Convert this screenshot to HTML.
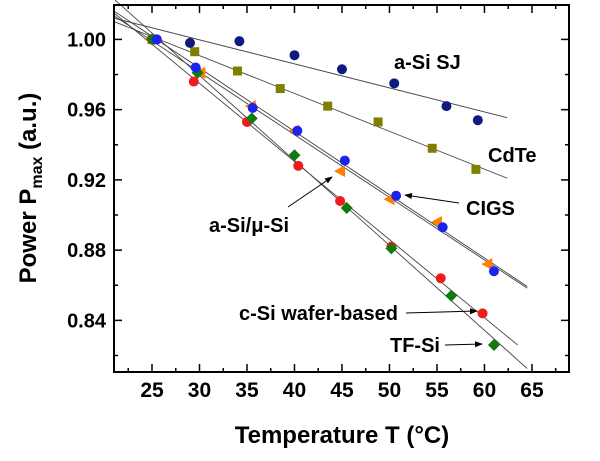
<!DOCTYPE html>
<html><head><meta charset="utf-8"><style>
body{margin:0;background:#fff;}
svg{display:block;font-family:"Liberation Sans",Arial,sans-serif;}
</style></head><body>
<svg id="chart" width="600" height="461" viewBox="0 0 600 461"></svg>
<script>
const seriesNames=["a-Si SJ","CdTe","CIGS","a-Si/μ-Si","c-Si","TF-Si"];
const tempASiSJ=[25.5,29,34.2,40,45,50.5,56,59.3];
const powASiSJ=[1.0,0.998,0.999,0.991,0.983,0.975,0.962,0.954];
const tempCdTe=[25,29.5,34,38.5,43.5,48.8,54.5,59.1];
const powCdTe=[1.0,0.993,0.982,0.972,0.962,0.953,0.938,0.926];
const tempCIGS=[25.5,29.6,35.6,40.3,45.3,50.7,55.6,61];
const powCIGS=[1.0,0.984,0.961,0.948,0.931,0.911,0.893,0.868];
const tempMicro=[24.8,30.1,35.4,40,44.8,50,55,60.3];
const powMicro=[1.0,0.981,0.962,0.948,0.925,0.909,0.896,0.872];
const tempCSi=[25,29.4,35,40.4,44.8,50.2,55.4,59.8];
const powCSi=[1.0,0.976,0.953,0.928,0.908,0.882,0.864,0.844];
const tempTFSi=[25,29.8,35.5,40,45.5,50.2,56.5,61];
const powTFSi=[1.0,0.981,0.955,0.934,0.904,0.881,0.854,0.826];
const xTicks=[25,30,35,40,45,50,55,60,65];
const yTicks=[1.00,0.96,0.92,0.88,0.84];

const NS="http://www.w3.org/2000/svg";
const svg=document.getElementById('chart');
const L=114,R=569,T=5,B=372;
const X0=21,X1=68.9,Y0=0.8106,Y1=1.0196;
const sx=v=>L+(v-X0)/(X1-X0)*(R-L);
const sy=v=>B-(v-Y0)/(Y1-Y0)*(B-T);
function mk(tag,attrs,parent){const e=document.createElementNS(NS,tag);for(const k in attrs)e.setAttribute(k,attrs[k]);(parent||svg).appendChild(e);return e;}

function fit(xs,ys){const n=xs.length;let mx=0,my=0;for(let i=0;i<n;i++){mx+=xs[i];my+=ys[i];}mx/=n;my/=n;let a=0,b=0;for(let i=0;i<n;i++){a+=(xs[i]-mx)*(ys[i]-my);b+=(xs[i]-mx)**2;}const s=a/b;return [s,my-s*mx];}
const fits=[[tempASiSJ,powASiSJ,21,62.4],[tempCdTe,powCdTe,21,62.4],[tempCIGS,powCIGS,21,64.5],[tempMicro,powMicro,21,64.5],[tempCSi,powCSi,21,63.5],[tempTFSi,powTFSi,21,64.5]];
fits.forEach((f,i)=>{const [s,b]=fit(f[0],f[1]);const ln=mk('line',{x1:sx(f[2]),y1:sy(s*f[2]+b),x2:sx(f[3]),y2:sy(s*f[3]+b),stroke:'#444','stroke-width':0.9});

});

function circle(xs,ys,col,name){xs.forEach((x,i)=>{const c=mk('circle',{cx:sx(x),cy:sy(ys[i]),r:5,fill:col});

});}
function square(xs,ys,col,name){xs.forEach((x,i)=>{const c=mk('rect',{x:sx(x)-4.5,y:sy(ys[i])-4.5,width:9,height:9,fill:col});

});}
function tri(xs,ys,col,name){xs.forEach((x,i)=>{const cx=sx(x),cy=sy(ys[i]);const c=mk('polygon',{points:`${cx-6},${cy} ${cx+5},${cy-6} ${cx+5},${cy+6}`,fill:col});

});}
function dia(xs,ys,col,name){xs.forEach((x,i)=>{const cx=sx(x),cy=sy(ys[i]);const c=mk('polygon',{points:`${cx},${cy-6} ${cx+6},${cy} ${cx},${cy+6} ${cx-6},${cy}`,fill:col});

});}
square(tempCdTe,powCdTe,'#808000','cdte');
circle(tempASiSJ,powASiSJ,'#0f1a80','a-si-sj');
tri(tempMicro,powMicro,'#ff8000','a-si-micro-si');
circle(tempCSi,powCSi,'#ee1c1c','c-si');
dia(tempTFSi,powTFSi,'#107a10','tf-si');
circle(tempCIGS,powCIGS,'#1a24ee','cigs');

const fr=mk('rect',{x:L,y:T,width:R-L,height:B-T,fill:'none',stroke:'#000','stroke-width':2});


for(let v=22.5;v<=67.5;v+=2.5){const maj=xTicks.includes(v);const l=maj?8:4;
mk('line',{x1:sx(v),x2:sx(v),y1:B,y2:B-l,stroke:'#000','stroke-width':1.5});
mk('line',{x1:sx(v),x2:sx(v),y1:T,y2:T+l,stroke:'#000','stroke-width':1.5});}
xTicks.forEach(v=>{const t=mk('text',{x:sx(v),y:397,'text-anchor':'middle','font-size':21,'font-weight':'bold'});t.textContent=v;

});
for(let k=0;k<=9;k++){const v=0.82+k*0.02;const maj=k%2==1;const l=maj?8:4;
mk('line',{x1:L,x2:L+l,y1:sy(v),y2:sy(v),stroke:'#000','stroke-width':1.5});
mk('line',{x1:R,x2:R-l,y1:sy(v),y2:sy(v),stroke:'#000','stroke-width':1.5});}
yTicks.forEach(v=>{const t=mk('text',{x:106,y:sy(v)+7,'text-anchor':'end','font-size':20,'font-weight':'bold'});t.textContent=v.toFixed(2);

});
</script>
<svg style="position:absolute;left:0;top:0" width="600" height="461">
<defs><marker id="ah2" markerWidth="8" markerHeight="8" refX="7" refY="3" orient="auto" markerUnits="userSpaceOnUse"><path d="M0,0 L8,3 L0,6 Z" fill="#000"/></marker></defs>
<g font-family="Liberation Sans,Arial,sans-serif" font-weight="bold" font-size="20">
<text x="394" y="69">a-Si SJ</text>
<text x="488" y="162">CdTe</text>
<text x="466" y="215">CIGS</text>
<text x="209" y="232">a-Si/μ-Si</text>
<text x="239" y="320">c-Si wafer-based</text>
<text x="390" y="352">TF-Si</text>
</g>
<line x1="459" y1="203" x2="405" y2="195" stroke="#000" marker-end="url(#ah2)"/>
<line x1="288" y1="207" x2="332" y2="177" stroke="#000" marker-end="url(#ah2)"/>
<line x1="406" y1="313" x2="477" y2="311" stroke="#000" marker-end="url(#ah2)"/>
<line x1="445" y1="345" x2="482" y2="344" stroke="#000" marker-end="url(#ah2)"/>
<text x="342" y="443" text-anchor="middle" font-family="Liberation Sans,Arial,sans-serif" font-weight="bold" font-size="24">Temperature T (°C)</text>
<text transform="translate(36,188) rotate(-90)" text-anchor="middle" font-family="Liberation Sans,Arial,sans-serif" font-weight="bold" font-size="24">Power P<tspan font-size="16" dy="6">max</tspan><tspan dy="-6"> (a.u.)</tspan></text>
</svg>
</body></html>
